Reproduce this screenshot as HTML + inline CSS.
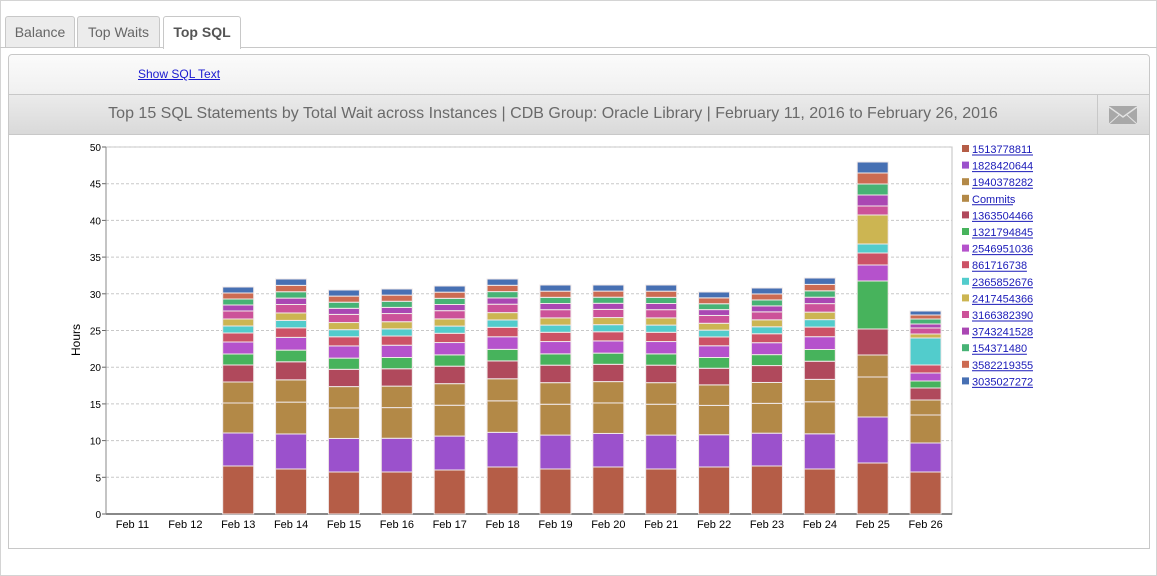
<!DOCTYPE html>
<html><head><meta charset="utf-8"><style>
body{margin:0;width:1157px;height:576px;background:#fff;font-family:"Liberation Sans",Arial,sans-serif;position:relative;overflow:hidden}
.outer{position:absolute;left:0;top:0;width:1155px;height:574px;border:1px solid #d4d4d4}
.tab{position:absolute;top:16px;height:30px;border:1px solid #c8c8c8;border-bottom:none;border-radius:3px 3px 0 0;background:#ececec;color:#666;font-size:14px;line-height:31px;text-align:center}
.tabline{position:absolute;left:0;top:47px;width:1157px;height:1px;background:#c8c8c8}
.panel{position:absolute;left:8px;top:54px;width:1140px;height:493px;border:1px solid #c8c8c8;border-radius:4px 4px 0 0;background:#fff}
.tool{position:absolute;left:0;top:0;width:1140px;height:39px;background:linear-gradient(#fbfbfb,#f0f0f0);border-bottom:1px solid #c8c8c8;border-radius:4px 4px 0 0}
.title{position:absolute;left:0;top:40px;width:1140px;height:39px;background:linear-gradient(#ebebeb,#d9d9d9);border-bottom:1px solid #c8c8c8}
</style></head><body>
<div class="outer"></div>
<div class="tabline"></div>
<div class="tab" style="left:5px;width:68px">Balance</div>
<div class="tab" style="left:77px;width:81px">Top Waits</div>
<div class="tab" style="left:163px;width:76px;height:32px;background:#fff;color:#555;font-weight:bold">Top SQL</div>
<div class="panel">
 <div class="tool"><span style="position:absolute;left:129px;top:12px;font-size:12px;color:#1a1ad0;text-decoration:underline">Show SQL Text</span></div>
 <div class="title"><div style="position:absolute;left:0;width:1088px;top:10px;text-align:center;font-size:16px;color:#6a6a6a">Top 15 SQL Statements by Total Wait across Instances | CDB Group: Oracle Library | February 11, 2016 to February 26, 2016</div>
 <div style="position:absolute;left:1088px;top:0;width:1px;height:39px;background:#c8c8c8"></div>
 <svg style="position:absolute;left:1100px;top:11px" width="30" height="19"><rect x="0" y="0" width="28" height="18" fill="#a8a8a8"/><polyline points="0,1 14,11 28,1" fill="none" stroke="#e4e4e4" stroke-width="1.5"/><line x1="0" y1="18" x2="10" y2="9" stroke="#e4e4e4"/><line x1="28" y1="18" x2="18" y2="9" stroke="#e4e4e4"/></svg>
 </div>
</div>
<svg id="ch" style="position:absolute;left:0;top:0" width="1157" height="576" font-family="Liberation Sans, Arial, sans-serif"></svg>
<script>
var s=document.getElementById('ch'),h='';
var X0=106,X1=952,Y0=514,k=7.34;
h+='<rect x="'+X0+'" y="147" width="'+(X1-X0)+'" height="367" fill="#fff" stroke="#c0c0c0"/>';
for(var v=0;v<=50;v+=5){var y=Y0-v*k;
 if(v>0)h+='<line x1="'+X0+'" x2="'+X1+'" y1="'+y+'" y2="'+y+'" stroke="#c8c8c8" stroke-dasharray="3,2"/>';
 h+='<line x1="102" x2="106" y1="'+y+'" y2="'+y+'" stroke="#666"/>';
 h+='<text x="101" y="'+(y+4)+'" font-size="10" text-anchor="end" fill="#000">'+v+'</text>';}
h+='<line x1="'+X0+'" x2="'+X0+'" y1="147" y2="514" stroke="#888"/><line x1="'+X0+'" x2="'+X1+'" y1="514" y2="514" stroke="#888" stroke-width="2"/>';
h+='<text transform="translate(80,340) rotate(-90)" font-size="12" text-anchor="middle">Hours</text>';
var C=['#b55d47','#9b51cc','#b38947','#b38947','#b0495c','#47b35c','#b552cc','#cc5266','#52cccc','#ccb552','#cc5299','#aa47b3','#47b375','#cc6b52','#4770b3'];
var N=['1513778811','1828420644','1940378282','Commits','1363504466','1321794845','2546951036','861716738','2365852676','2417454366','3166382390','3743241528','154371480','3582219355','3035027272'];
var gen=[48,33,30,21,17,11,12,9,7,7,8,6,6,6,6];
var tops=[0,0,287,279,290,289,286,279,285,285,285,292,288,278,0,0];
var first=[0,0,48,45,42,42,44,47,45,47,45,47,48,45];
var days=['Feb 11','Feb 12','Feb 13','Feb 14','Feb 15','Feb 16','Feb 17','Feb 18','Feb 19','Feb 20','Feb 21','Feb 22','Feb 23','Feb 24','Feb 25','Feb 26'];
var special={14:[514,463,417,377,355,329,281,265,253,244,215,206,195,184,173,162],15:[514,472,443,415,400,388,381,373,365,338,334,328,324,319,315,311]};
var cw=(X1-X0)/16;
for(var i=0;i<16;i++){var cx=X0+cw*(i+0.5),bx=cx-15.5;
 h+='<text x="'+cx+'" y="528" font-size="11" text-anchor="middle">'+days[i]+'</text>';
 var b=null;
 if(special[i])b=special[i];
 else if(tops[i]){var tot=Y0-tops[i],f=first[i],rest=227-48,sc=(tot-f)/rest;b=[Y0,Y0-f];var y=Y0-f;for(var j=1;j<15;j++){y-=gen[j]*sc;b.push(y);}}
 if(b){for(var j=0;j<15;j++){h+='<rect x="'+bx+'" y="'+b[j+1]+'" width="31" height="'+(b[j]-b[j+1])+'" fill="'+C[j]+'" stroke="#f0e8e8" stroke-width="1"/>';}}
}
for(var j=0;j<15;j++){var y=149+j*16.6;
 h+='<rect x="962" y="'+(y-4)+'" width="7" height="7" fill="'+C[j]+'"/>';
 h+='<text x="972" y="'+(y+4)+'" font-size="11" fill="#1a1ab8">'+N[j]+'</text>';
 h+='<line x1="972" x2="'+(972+(N[j]=='Commits'?41:(N[j].length*6.1)))+'" y1="'+(y+6)+'" y2="'+(y+6)+'" stroke="#1a1ab8"/>';}
s.innerHTML=h;
</script>
</body></html>
